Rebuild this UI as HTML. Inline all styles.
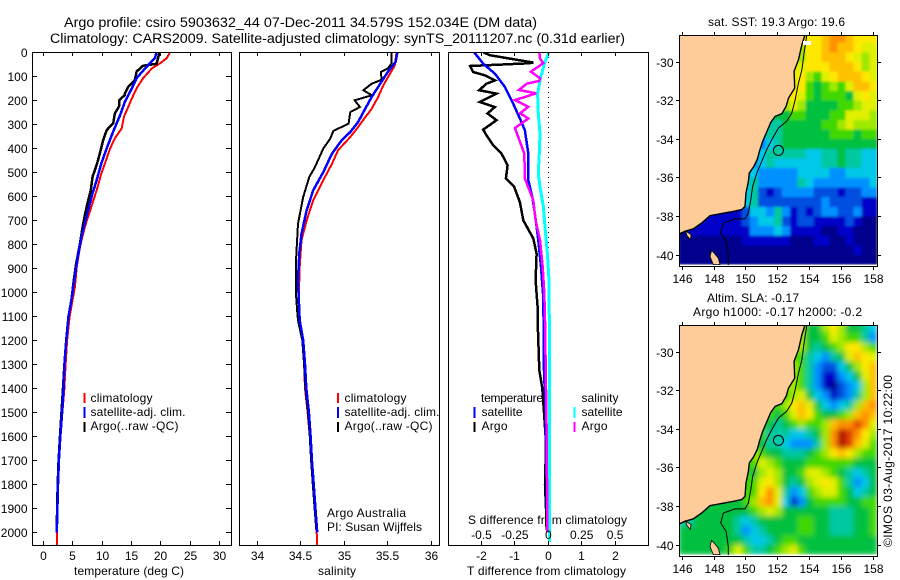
<!DOCTYPE html>
<html>
<head>
<meta charset="utf-8">
<title>Argo profile</title>
<style>
html,body{margin:0;padding:0;background:#fff;}
svg{display:block;font-family:"Liberation Sans",sans-serif;font-size:12px;fill:#000;}
.ttl{font-size:13.5px;}
</style>
</head>
<body>
<svg id="fig" width="900" height="580" viewBox="0 0 900 580" xmlns="http://www.w3.org/2000/svg">
<defs>
<clipPath id="clipT"><rect x="32" y="52" width="200" height="494"/></clipPath>
<clipPath id="clipS"><rect x="239" y="52" width="201" height="494"/></clipPath>
<clipPath id="clipD"><rect x="448" y="52" width="201" height="494"/></clipPath>
<clipPath id="clipM1"><rect x="680" y="35" width="198" height="230"/></clipPath>
<clipPath id="clipM2"><rect x="680" y="325" width="198" height="230"/></clipPath>
<filter id="smooth" x="-5%" y="-5%" width="110%" height="110%"><feGaussianBlur stdDeviation="2.6"/></filter>
<filter id="soft" x="-5%" y="-5%" width="110%" height="110%"><feGaussianBlur stdDeviation="1.2"/></filter>
</defs>
<text class="ttl" x="64" y="27" textLength="473" lengthAdjust="spacingAndGlyphs">Argo profile: csiro 5903632_44 07-Dec-2011 34.579S 152.034E (DM data)</text>
<text class="ttl" x="50" y="43" textLength="575" lengthAdjust="spacingAndGlyphs">Climatology: CARS2009. Satellite-adjusted climatology: synTS_20111207.nc (0.31d earlier)</text>
<text x="74" y="575" textLength="110">temperature (deg C)</text>
<text x="318" y="575" textLength="38">salinity</text>
<text x="467" y="575" textLength="159">T difference from climatology</text>
<text x="468" y="524" textLength="159">S difference from climatology</text>
<text x="327" y="517" textLength="79">Argo Australia</text>
<text x="327" y="531" textLength="95">PI: Susan Wijffels</text>
<text x="708" y="26" textLength="137">sat. SST: 19.3 Argo: 19.6</text>
<text x="707" y="302" textLength="92">Altim. SLA: -0.17</text>
<text x="693" y="316" textLength="169">Argo h1000: -0.17 h2000: -0.2</text>
<text transform="translate(892,547) rotate(-90)" textLength="172">©IMOS 03-Aug-2017 10:22:00</text>
</svg>
<script>
// ---- profile data (depth in m, values in physical units) ----
var depthTicks = [0,100,200,300,400,500,600,700,800,900,1000,1100,1200,1300,1400,1500,1600,1700,1800,1900,2000];
var tempTicks = [0,5,10,15,20,25,30];
var salTicks = [34,34.5,35,35.5,36];
var salTickLabels = ['34','34.5','35','35.5','36'];
var tDiffTicks = [-2,-1,0,1,2];
var tDiffLabels = ['-2','-1','0','1','2'];
var sDiffTicks = [-0.5,-0.25,0,0.25,0.5];
var sDiffLabels = ['-0.5','-0.25','0','0.25','0.5'];

var tempClimDepth = [0,25,46,67,108,150,192,226,268,317,358,400,449,504,574,643,726,810,893,976,1029,1100,1200,1300,1400,1500,1600,1700,1800,1900,2000,2057];
var tempClimValue = [21.6,21.0,19.9,18.5,17.0,15.9,15.1,14.5,13.75,13.35,12.2,11.4,10.7,9.9,9.1,8.2,7.1,6.25,5.7,5.4,5.0,4.5,4.05,3.8,3.6,3.25,2.95,2.7,2.5,2.45,2.33,2.3];
var tempSatDepth = [0,25,60,108,150,206,261,330,400,462,532,587,671,768,865,962,1029,1100,1200,1300,1400,1500,1600,1700,1800,1900,2000];
var tempSatValue = [19.3,19.0,17.6,15.9,15.1,13.9,13.1,11.9,10.8,9.9,9.1,8.4,7.5,6.5,5.8,5.2,4.8,4.3,3.9,3.6,3.45,3.2,2.9,2.65,2.5,2.4,2.3];
var tempArgoDepth = [0,18,48,53,56,80,115,143,171,178,199,226,254,296,324,365,421,469,518,574,643,713,796,879,949,1029,1100,1200,1300,1400,1500,1600,1700,1800,1900,1990];
var tempArgoValue = [19.8,19.6,19.3,17.9,17.0,15.9,15.6,14.5,13.9,13.9,12.95,12.9,12.2,11.9,10.8,10.2,9.65,9.1,8.4,8.1,7.4,6.8,6.25,5.6,5.2,4.8,4.3,3.9,3.6,3.35,3.1,2.85,2.6,2.45,2.35,2.3];

var salClimDepth = [0,54,89,137,186,235,276,311,353,408,464,547,617,700,783,894,1005,1117,1200,1300,1400,1500,1600,1700,1800,1900,2000,2057];
var salClimValue = [35.60,35.58,35.525,35.45,35.39,35.315,35.23,35.16,35.07,34.93,34.86,34.74,34.645,34.57,34.51,34.49,34.48,34.485,34.52,34.54,34.55,34.58,34.605,34.62,34.64,34.66,34.685,34.69];
var salSatDepth = [0,40,82,144,186,249,290,332,367,422,499,575,658,756,839,950,1117,1200,1300,1400,1500,1600,1700,1800,1900,2000];
var salSatValue = [35.61,35.59,35.50,35.39,35.315,35.22,35.16,35.07,34.97,34.86,34.76,34.645,34.57,34.51,34.485,34.47,34.49,34.53,34.55,34.565,34.595,34.615,34.63,34.65,34.67,34.69];
var salArgoDepth = [0,47,68,82,114,131,158,179,200,228,249,297,328,360,401,478,519,603,714,853,1019,1075,1117,1200,1300,1400,1500,1600,1700,1800,1900,1990];
var salArgoValue = [35.54,35.54,35.50,35.42,35.43,35.315,35.22,35.315,35.12,35.18,35.07,35.05,34.875,34.84,34.76,34.665,34.60,34.53,34.47,34.45,34.45,34.46,34.47,34.52,34.54,34.555,34.585,34.605,34.62,34.64,34.66,34.68];

var dTSatDepth = [0,47,89,144,214,276,325,422,533,603,672,783,894,1005,1117,1325,1500,1700,2000];
var dTSatValue = [-2.22,-1.95,-1.6,-1.3,-1.05,-0.85,-0.7,-0.6,-0.6,-0.48,-0.4,-0.3,-0.22,-0.16,-0.14,-0.13,-0.08,-0.06,-0.03];
var dTArgoDepth = [0,12,43,46,57,82,96,117,131,158,172,207,228,255,283,322,346,388,422,471,526,561,624,700,776,839,950,1061,1117,1200,1325,1400,1500,1600,1700,1800,1900,1990];
var dTArgoValue = [-1.95,-1.75,-0.45,-0.6,-2.34,-2.25,-1.9,-1.6,-1.85,-2.07,-1.55,-2.05,-1.6,-1.82,-1.55,-1.95,-1.85,-1.65,-1.4,-1.22,-1.27,-1.02,-0.85,-0.75,-0.45,-0.35,-0.38,-0.32,-0.32,-0.3,-0.27,-0.18,-0.13,-0.08,-0.08,-0.1,-0.07,-0.05];
var dSSatDepth = [0,40,103,172,255,339,422,506,561,644,728,839,950,1117,1400,1700,2040];
var dSSatValue = [0.005,-0.025,-0.057,-0.08,-0.075,-0.062,-0.067,-0.075,-0.062,-0.037,-0.025,-0.007,0.005,0.0075,0.0075,0.01,0.0075];
var dSArgoDepth = [0,26,45,81,108,119,131,157,171,199,227,254,276,316,346,422,526,617,700,783,894,1005,1117,1400,1600,2000];
var dSArgoValue = [-0.067,-0.062,-0.037,-0.13,-0.062,-0.067,-0.162,-0.22,-0.09,-0.25,-0.15,-0.21,-0.15,-0.25,-0.23,-0.18,-0.175,-0.112,-0.095,-0.062,-0.042,-0.03,-0.025,-0.017,-0.012,-0.007];

// ---- map data: rows from lat -28.75 southwards at 0.5 deg, columns from lon 146 eastwards at 0.5 deg ----
var sstGrid = [
"...............9aabccbaaa",
"...............8aabcbba99",
"...............8aabbba989",
"..............99aaabbba89",
"..............9a879abbba9",
"..............9a767879bba",
".............9a97677769a9",
"............6898666677899",
"...........56677666779998",
"..........355666667789888",
"..........455666666777677",
".........3345666666666666",
".........3455555445565544",
".........3454444445565544",
"........34333334444334444",
"........45333335433333334",
"........45212333322212233",
".......445222222223222211",
"...1111124435312123322311",
"..11111123445212211112100",
"0111111113334311110011000",
"0000000011111100011001000",
"0000000000000000000000100",
"0000000000000000000000000"
];
var slaGrid = [
"...............8668a86654",
"...............8667987753",
"...............865678aa87",
"...............7543569ba9",
"..............875322468ab",
"..............8753113469b",
".............88753102348b",
".............78964312358b",
"............78ab9643458bc",
"...........7679ba76678bcb",
"..........765678778bccdc9",
"..........755544568cedca8",
"..........655433358cedb97",
".........8766555678aba877",
".........7987666777777666",
"........76898667998765456",
"........779a865689a975346",
"........77ac9534789976456",
"...6666678bc9413677776677",
"..66666667898666666555667",
"5566666545666667766555667",
"6666666534566667766555667",
"6666666654456776666666666",
"6666667975567897666666666"
];
var palette = ['#00008c','#0000c8','#0050e0','#0090ff','#00c8e8','#00c8a0','#00c040','#40d800','#a0e800','#e0f000','#ffe800','#ffc000','#ff9000','#e04000','#b00000'];
var levelKeys = '0123456789abcde';
var coastLon = [153.71,153.51,153.30,153.02,153.06,152.67,152.52,152.25,151.83,151.56,151.26,151.05,150.84,150.72,150.47,150.21,150.15,150.00,149.94,149.73,149.0,147.74,147.22,146.69,146.17,145.85];
var coastLat = [-28.60,-29.10,-29.88,-30.48,-31.35,-31.87,-32.30,-32.68,-32.82,-33.13,-33.71,-34.11,-34.63,-35.03,-35.44,-35.75,-36.18,-36.79,-37.48,-37.65,-37.77,-37.96,-38.34,-38.64,-38.77,-38.89];
var shelfLon = [153.82,153.65,153.51,153.30,153.09,152.88,152.56,152.04,151.62,151.30,150.99,150.68,150.42,150.30,150.15,149.94,149.31,148.58,148.41,148.75,148.89,148.89];
var shelfLat = [-28.60,-29.53,-30.40,-31.09,-31.95,-32.64,-33.07,-33.42,-34.02,-34.54,-35.15,-35.75,-36.44,-37.13,-37.82,-38.13,-38.13,-38.34,-38.86,-39.29,-40.07,-40.55];
var islandLon = [147.84,148.05,148.26,148.37,147.95,147.74];
var islandLat = [-39.76,-39.95,-40.16,-40.5,-40.5,-40.07];
var promLon = [146.2,146.55,146.5,146.3];
var promLat = [-38.75,-38.95,-39.2,-39.0];
var floatLon = [152.034];
var floatLat = [-34.579];
var lonTicks = [146,148,150,152,154,156,158];
var latTicks = [-30,-32,-34,-36,-38,-40];

// ---- scales ----
var NS = 'http://www.w3.org/2000/svg';
var fig = document.getElementById('fig');
function yDepth(d){ return 52.3 + 0.24*d; }
function xTemp(t){ return 43.3 + 5.87*t; }
function xSal(s){ return 257 + 87.2*(s-34); }
function xDT(t){ return 548.3 + 33.4*t; }
function xDS(s){ return 548.3 + 133.6*s; }
function xLon(l){ return 682.3 + 15.92*(l-146); }
function yLat(l,top){ return top + 27 - (l+30)*19.3; }

function mk(tag, parent, name, inter){
  var el = document.createElementNS(NS, tag);
  
  
  parent.appendChild(el);
  return el;
}
function line(p, name, x1, y1, x2, y2){
  var l = mk('line', p, name);
  l.setAttribute('x1', x1); l.setAttribute('y1', y1);
  l.setAttribute('x2', x2); l.setAttribute('y2', y2);
  l.setAttribute('stroke', '#000');
  l.setAttribute('stroke-width', 1);
  l.setAttribute('shape-rendering', 'crispEdges');
  return l;
}
function label(p, name, x, y, s, anchor, len){
  var t = mk('text', p, name);
  t.setAttribute('x', x); t.setAttribute('y', y);
  t.setAttribute('text-anchor', anchor || 'middle');
  if (len) t.setAttribute('textLength', len);
  t.textContent = s;
  return t;
}
function box(name, x1, y1, x2, y2){
  var r = mk('rect', fig, name);
  r.setAttribute('x', x1); r.setAttribute('y', y1);
  r.setAttribute('width', x2-x1); r.setAttribute('height', y2-y1);
  r.setAttribute('fill', 'none');
  r.setAttribute('stroke', '#000');
  r.setAttribute('shape-rendering', 'crispEdges');
}
function snap(v){ return Math.floor(v)+0.5; }
function profile(p, name, depth, vals, fx, col, w){
  var pts = [];
  for (var i=0;i<vals.length;i++){ pts.push(fx(vals[i]).toFixed(1)+','+yDepth(depth[i]).toFixed(1)); }
  var el = mk('polyline', p, name);
  el.setAttribute('points', pts.join(' '));
  el.setAttribute('fill', 'none');
  el.setAttribute('stroke', col);
  el.setAttribute('stroke-width', w);
  el.setAttribute('stroke-linejoin', 'miter');
  el.setAttribute('shape-rendering', 'crispEdges');
}
function legendBar(p, name, x, y1, y2, col){
  var r = mk('rect', p, name);
  r.setAttribute('x', x); r.setAttribute('y', y1);
  r.setAttribute('width', 2); r.setAttribute('height', y2-y1);
  r.setAttribute('fill', col);
}

// ---- profile panels ----
var g1 = mk('g', fig, 'temperature-panel');
var g2 = mk('g', fig, 'salinity-panel');
var g3 = mk('g', fig, 'difference-panel');
var c1 = mk('g', g1, 'temperature-series'); c1.setAttribute('clip-path', 'url(#clipT)');
var c2 = mk('g', g2, 'salinity-series'); c2.setAttribute('clip-path', 'url(#clipS)');
var c3 = mk('g', g3, 'difference-series'); c3.setAttribute('clip-path', 'url(#clipD)');

var zeroDots = line(c3, 'zero-line', 548.5, 52, 548.5, 546);
zeroDots.setAttribute('stroke-dasharray', '1 4');

profile(c1, 'temperature-climatology-line', tempClimDepth, tempClimValue, xTemp, '#ff0000', 2);
profile(c1, 'temperature-argo-line', tempArgoDepth, tempArgoValue, xTemp, '#000000', 2.5);
profile(c1, 'temperature-satellite-line', tempSatDepth, tempSatValue, xTemp, '#0000ff', 2.5);
profile(c2, 'salinity-climatology-line', salClimDepth, salClimValue, xSal, '#ff0000', 2);
profile(c2, 'salinity-argo-line', salArgoDepth, salArgoValue, xSal, '#000000', 2);
profile(c2, 'salinity-satellite-line', salSatDepth, salSatValue, xSal, '#0000ff', 2.5);
profile(c3, 't-diff-argo-line', dTArgoDepth, dTArgoValue, xDT, '#000000', 2.5);
profile(c3, 't-diff-satellite-line', dTSatDepth, dTSatValue, xDT, '#0000ff', 2.5);
profile(c3, 's-diff-satellite-line', dSSatDepth, dSSatValue, xDS, '#00ffff', 3);
profile(c3, 's-diff-argo-line', dSArgoDepth, dSArgoValue, xDS, '#ff00ff', 2.5);

box('temperature-plot-frame', 32.5, 52.5, 231.5, 545.5);
box('salinity-plot-frame', 239.5, 52.5, 439.5, 545.5);
box('difference-plot-frame', 448.5, 52.5, 648.5, 545.5);

depthTicks.forEach(function(d){
  var y = snap(yDepth(d));
  line(g1, 'depth-tick-left', 32, y, 37, y);
  line(g1, 'depth-tick-right', 226, y, 231, y);
  label(g1, 'depth-tick-label', 27.5, y+4.5, String(d), 'end');
});
function xAxisTicks(g, name, ticks, labels, fx, lblY, bottom, top){
  ticks.forEach(function(v, i){
    var x = snap(fx(v));
    if (bottom) line(g, name+'-tick-bottom', x, 541, x, 546);
    if (top) line(g, name+'-tick-top', x, 52, x, 56);
    label(g, name+'-tick-label', x, lblY, labels[i]);
  });
}
xAxisTicks(g1, 'temperature', tempTicks, tempTicks.map(String), xTemp, 560, true, true);
xAxisTicks(g2, 'salinity', salTicks, salTickLabels, xSal, 560, true, true);
xAxisTicks(g3, 't-difference', tDiffTicks, tDiffLabels, xDT, 560, true, true);
sDiffTicks.forEach(function(v, i){
  label(g3, 's-difference-tick-label', xDS(v), 539, sDiffLabels[i]);
});

// ---- legends ----
var legendT = mk('g', g1, 'temperature-legend');
legendBar(legendT, 'legend-climatology-swatch', 83.5, 393, 403, '#ff0000');
legendBar(legendT, 'legend-satellite-swatch', 83.5, 407, 418, '#0000ff');
legendBar(legendT, 'legend-argo-swatch', 83.5, 422, 432, '#000000');
label(legendT, 'legend-climatology', 90.5, 402, 'climatology', 'start', 62);
label(legendT, 'legend-satellite', 90.5, 416, 'satellite-adj. clim.', 'start', 95);
label(legendT, 'legend-argo', 90.5, 430, 'Argo(..raw -QC)', 'start', 88);
var legendS = mk('g', g2, 'salinity-legend');
legendBar(legendS, 'legend-climatology-swatch', 337, 393, 403, '#ff0000');
legendBar(legendS, 'legend-satellite-swatch', 337, 407, 418, '#0000ff');
legendBar(legendS, 'legend-argo-swatch', 337, 422, 432, '#000000');
label(legendS, 'legend-climatology', 344.5, 402, 'climatology', 'start', 62);
label(legendS, 'legend-satellite', 344.5, 416, 'satellite-adj. clim.', 'start', 95);
label(legendS, 'legend-argo', 344.5, 430, 'Argo(..raw -QC)', 'start', 88);
var legendD = mk('g', g3, 'difference-legend');
label(legendD, 'legend-temperature-heading', 481, 402, 'temperature', 'start', 62);
label(legendD, 'legend-salinity-heading', 581.5, 402, 'salinity', 'start', 37);
legendBar(legendD, 'legend-t-satellite-swatch', 473.5, 407, 418, '#0000ff');
legendBar(legendD, 'legend-t-argo-swatch', 473.5, 422, 432, '#000000');
legendBar(legendD, 'legend-s-satellite-swatch', 573.5, 407, 418, '#00ffff');
legendBar(legendD, 'legend-s-argo-swatch', 573.5, 422, 432, '#ff00ff');
label(legendD, 'legend-t-satellite', 481.5, 416, 'satellite', 'start', 41);
label(legendD, 'legend-t-argo', 481.5, 430, 'Argo', 'start', 26);
label(legendD, 'legend-s-satellite', 581.5, 416, 'satellite', 'start', 41);
label(legendD, 'legend-s-argo', 581.5, 430, 'Argo', 'start', 26);

// ---- maps ----
function lonlatPoints(lons, lats, top){
  var out = [];
  for (var i=0;i<lons.length;i++){ out.push(xLon(lons[i]).toFixed(1)+','+yLat(lats[i],top).toFixed(1)); }
  return out;
}
function drawMap(name, grid, top, clipId, filterId){
  var g = mk('g', fig, name);
  var clip = mk('g', g, name+'-data');
  clip.setAttribute('clip-path', 'url(#'+clipId+')');
  var cells = mk('g', clip, name+'-cells');
  cells.setAttribute('filter', 'url(#'+filterId+')');
  for (var r=0;r<grid.length;r++){
    var rowFirst = grid[r].replace(/\./g,'').charAt(0);
    for (var c=0;c<grid[r].length;c++){
      var ch = grid[r].charAt(c);
      if (ch === '.') ch = rowFirst;
      var lon = 146 + 0.5*c, lat = -28.75 - 0.5*r;
      var x1 = xLon(lon-0.25), x2 = xLon(lon+0.25);
      var y1 = yLat(lat+0.25, top), y2 = yLat(lat-0.25, top);
      var cell = mk('rect', cells, name+'-cell');
      cell.setAttribute('x', x1.toFixed(2));
      cell.setAttribute('y', y1.toFixed(2));
      cell.setAttribute('width', (x2-x1+0.3).toFixed(2));
      cell.setAttribute('height', (y2-y1+0.3).toFixed(2));
      cell.setAttribute('fill', palette[levelKeys.indexOf(ch)]);
      cell.setAttribute('shape-rendering', 'crispEdges');
    }
  }
  var wm = mk('rect', clip, name+'-strip');
  wm.setAttribute('x', 678); wm.setAttribute('y', yLat(-40.5, top));
  wm.setAttribute('width', 202); wm.setAttribute('height', 4);
  wm.setAttribute('fill', '#fff');
  var land = mk('polygon', clip, name+'-land');
  var pts = lonlatPoints(coastLon, coastLat, top);
  pts.push('679,'+yLat(-38.89,top).toFixed(1));
  pts.push('679,'+(top-2));
  pts.push(xLon(153.71).toFixed(1)+','+(top-2));
  land.setAttribute('points', pts.join(' '));
  land.setAttribute('fill', '#fdcc99');
  [[islandLon,islandLat,'island'],[promLon,promLat,'promontory']].forEach(function(a){
    var isl = mk('polygon', clip, name+'-'+a[2]);
    isl.setAttribute('points', lonlatPoints(a[0],a[1],top).join(' '));
    isl.setAttribute('fill', '#fdcc99');
    isl.setAttribute('stroke', '#000');
    isl.setAttribute('stroke-width', 0.8);
  });
  var coast = mk('polyline', clip, name+'-coastline');
  coast.setAttribute('points', lonlatPoints(coastLon, coastLat, top).join(' '));
  coast.setAttribute('fill', 'none');
  coast.setAttribute('stroke', '#000');
  coast.setAttribute('stroke-width', 1.4);
  var shelf = mk('polyline', clip, name+'-shelf-contour');
  shelf.setAttribute('points', lonlatPoints(shelfLon, shelfLat, top).join(' '));
  shelf.setAttribute('fill', 'none');
  shelf.setAttribute('stroke', '#000');
  shelf.setAttribute('stroke-width', 1);
  var marker = mk('circle', g, name+'-float-marker');
  marker.setAttribute('cx', xLon(floatLon[0]).toFixed(1));
  marker.setAttribute('cy', yLat(floatLat[0], top).toFixed(1));
  marker.setAttribute('r', 5);
  marker.setAttribute('fill', 'none');
  marker.setAttribute('stroke', '#000');
  marker.setAttribute('stroke-width', 1);
  box(name+'-frame', 679.5, top+0.5, 877.5, top+231.5);
  lonTicks.forEach(function(l){
    var x = snap(xLon(l));
    line(g, name+'-lon-tick-top', x, top-3, x, top);
    line(g, name+'-lon-tick-bottom', x, top+232, x, top+235);
    label(g, name+'-lon-tick-label', x, top+248, String(l));
  });
  latTicks.forEach(function(l){
    var y = snap(yLat(l, top));
    line(g, name+'-lat-tick-left', 676, y, 679, y);
    line(g, name+'-lat-tick-right', 878, y, 881, y);
    label(g, name+'-lat-tick-label', 673.5, y+4.5, String(l), 'end');
  });
  return g;
}
var m1 = drawMap('sst-map', sstGrid, 35, 'clipM1', 'soft');
var noData = mk('rect', m1, 'sst-no-data-patch');
noData.setAttribute('x', 803); noData.setAttribute('y', 41);
noData.setAttribute('width', 8); noData.setAttribute('height', 4);
noData.setAttribute('fill', '#fff');
drawMap('sla-map', slaGrid, 325, 'clipM2', 'smooth');
</script>
</body>
</html>
